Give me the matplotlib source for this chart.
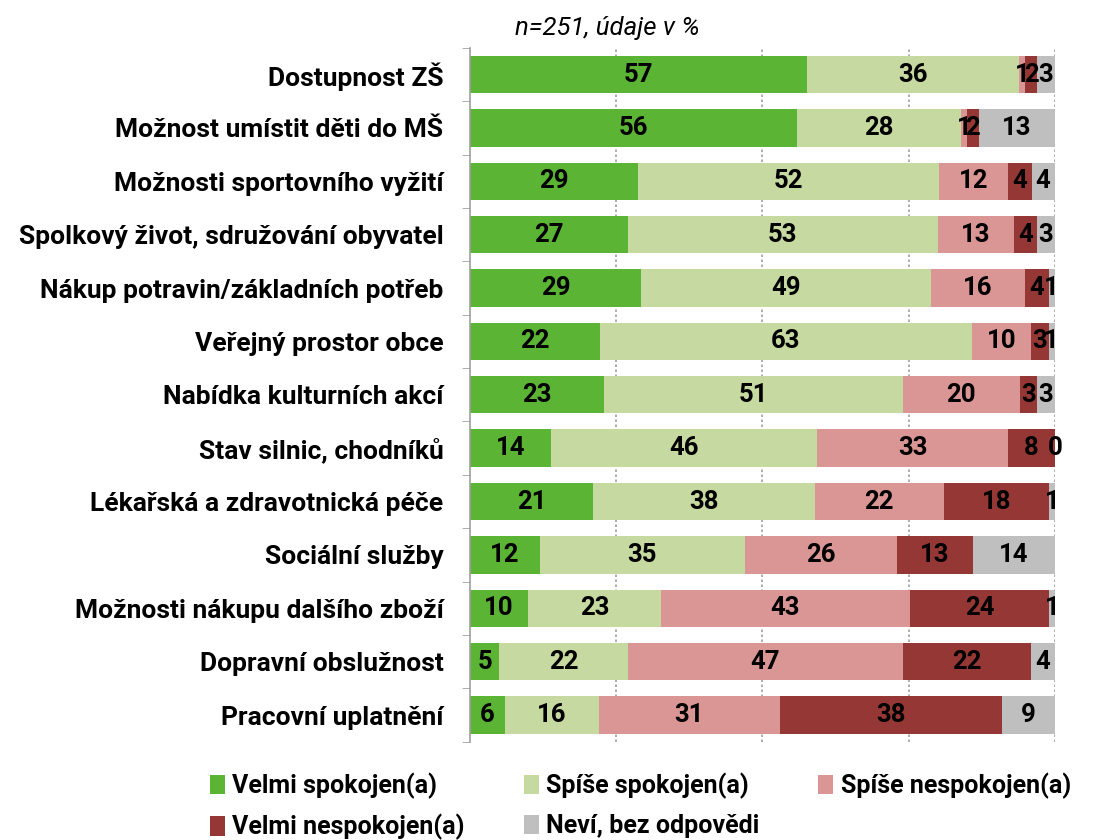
import numpy as np
import matplotlib
matplotlib.use("Agg")
from matplotlib import pyplot as plt

categories = [
    "Dostupnost ZŠ",
    "Možnost umístit děti do MŠ",
    "Možnosti sportovního vyžití",
    "Spolkový život, sdružování obyvatel",
    "Nákup potravin/základních potřeb",
    "Veřejný prostor obce",
    "Nabídka kulturních akcí",
    "Stav silnic, chodníků",
    "Lékařská a zdravotnická péče",
    "Sociální služby",
    "Možnosti nákupu dalšího zboží",
    "Dopravní obslužnost",
    "Pracovní uplatnění",
]
series = ["Velmi spokojen(a)", "Spíše spokojen(a)", "Spíše nespokojen(a)",
          "Velmi nespokojen(a)", "Neví, bez odpovědi"]
velmi_spok = [57, 56, 29, 27, 29, 22, 23, 14, 21, 12, 10, 5, 6]
spise_spok = [36, 28, 52, 53, 49, 63, 51, 46, 38, 35, 23, 22, 16]
spise_nespok = [1, 1, 12, 13, 16, 10, 20, 33, 22, 26, 43, 47, 31]
velmi_nespok = [2, 2, 4, 4, 4, 3, 3, 8, 18, 13, 24, 22, 38]
nevi = [3, 13, 4, 3, 1, 1, 3, 0, 1, 14, 1, 4, 9]
colors = ["#5BB434", "#C6D9A0", "#DA9694", "#953735", "#BFBFBF"]

plt.rcParams['font.family'] = ['Roboto', 'DejaVu Sans']

data = np.array([velmi_spok, spise_spok, spise_nespok, velmi_nespok, nevi], dtype=float)
# bars are 100 % stacked
shares = data / data.sum(axis=0) * 100

fig = plt.figure(figsize=(10.93, 8.4), dpi=100)
ax = fig.add_axes([0.43, 0.117, 0.535, 0.826])

y = np.arange(len(categories))
left = np.zeros(len(categories))
handles = []
for i, name in enumerate(series):
    bars = ax.barh(y, shares[i], left=left, height=0.7, color=colors[i],
                   label=name, zorder=2)
    handles.append(bars)
    for j in range(len(categories)):
        ax.text(left[j] + shares[i][j] / 2, y[j], f"{int(data[i][j])}",
                ha="center", va="center", fontsize=18.5, fontweight="bold",
                color="black", zorder=3)
    left += shares[i]

ax.set_xlim(0, 100)
ax.set_ylim(len(categories) - 0.5, -0.5)
ax.set_yticks(y)
ax.set_yticklabels(categories, fontsize=19, fontweight="bold")
ax.set_yticks(np.arange(len(categories) + 1) - 0.5, minor=True)
ax.tick_params(axis="y", which="major", length=0, pad=19)
ax.tick_params(axis="y", which="minor", length=6, color="#A0A0A0", direction="out")
ax.set_xticks([25, 50, 75, 100])
ax.set_xticklabels([])
ax.tick_params(axis="x", length=0)
ax.grid(axis="x", linestyle=(0, (1.5, 1.5)), color="#A0A0A0", linewidth=1.2, zorder=0)
for s in ["top", "right", "bottom"]:
    ax.spines[s].set_visible(False)
ax.spines["left"].set_color("#A0A0A0")
ax.spines["left"].set_linewidth(1.2)

fig.text(607 / 1093, 1 - 28 / 840, "n=251, údaje v %", ha="center", va="center",
         fontsize=18.5, style="italic")

order = [0, 3, 1, 4, 2]
fig.legend([handles[k] for k in order], [series[k] for k in order],
           loc="upper left", bbox_to_anchor=(0.192, 0.08), ncol=3,
           frameon=False, prop={"weight": "bold", "size": 18},
           borderaxespad=0, borderpad=0,
           handlelength=0.6, handleheight=0.8, handletextpad=0.3,
           columnspacing=2.35, labelspacing=0.6)

fig.savefig("out.png", dpi=100)
